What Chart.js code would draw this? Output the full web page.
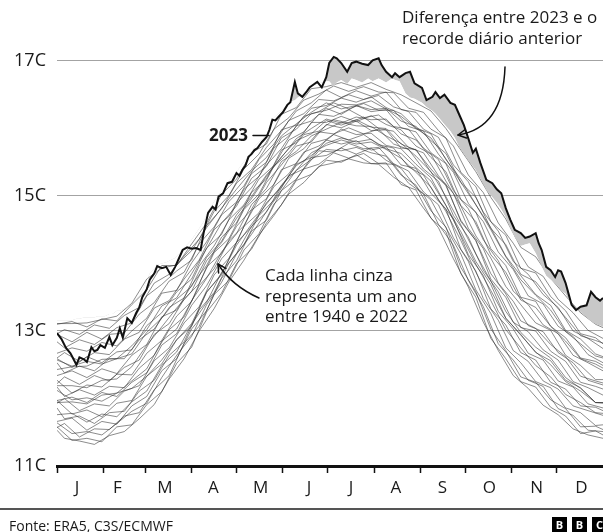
<!DOCTYPE html>
<html>
<head>
<meta charset="utf-8">
<script src="https://cdn.jsdelivr.net/npm/chart.js@4.4.0/dist/chart.umd.min.js"></script>
<style>
html,body{margin:0;padding:0;background:#fff;}
#wrap{position:relative;width:603px;height:532px;overflow:hidden;font-family:'Open Sans',sans-serif;color:#1a1a1a;background:#fff;}
#c{position:absolute;left:0;top:0;}
.note{position:absolute;font-size:17px;line-height:20.5px;white-space:nowrap;}
#sep{position:absolute;left:0;top:508px;width:603px;height:1.5px;background:#555;}
#src{position:absolute;left:9px;top:517px;font-size:14px;line-height:17px;white-space:nowrap;}
#bbc{position:absolute;left:552px;top:517px;height:15px;white-space:nowrap;}
#bbc span{display:inline-block;width:15px;height:15px;margin-right:5px;background:#000;color:#fff;font:700 11px/15px 'Open Sans',sans-serif;text-align:center;vertical-align:top;}
</style>
</head>
<body>
<div id="wrap">
<canvas id="c" width="603" height="532"></canvas>
<div class="note" style="left:402px;top:7px;">Diferença entre 2023 e o<br>recorde diário anterior</div>
<div class="note" style="left:265px;top:265px;">Cada linha cinza<br>representa um ano<br>entre 1940 e 2022</div>
<div class="note" style="left:209px;top:125px;font-weight:700;">2023</div>
<div id="sep"></div>
<div id="src">Fonte: ERA5, C3S/ECMWF</div>
<div id="bbc"><span>B</span><span>B</span><span>C</span></div>
</div>
<script>
// ---------- DATA ----------
const monthLetters   = ['J','F','M','A','M','J','J','A','S','O','N','D'];
const monthStartDays = [0,31,59,90,120,151,181,212,243,273,304,334];
const monthLabelDays = [13.4,40.4,72.2,104.6,136.2,168.4,196.5,226.6,257.7,289.1,320.7,350.6];
const yTickValues    = [11,13,15,17];

// 2023 daily global surface air temperature (°C)
const days2023 = [0,3,6,9,13,15,18,20,23,25,27,29,32,35,37,40,42,44,47,50,53,55,57,60,62,65,67,70,73,76,79,82,84,87,90,93,96,98,101,104,106,108,111,114,117,120,122,124,126,128,130,132,134,137,140,142,144,146,148,151,154,156,159,161,164,167,169,172,174,177,180,182,185,187,190,194,197,200,204,208,211,215,217,220,224,226,229,233,236,239,244,247,251,253,256,259,263,266,269,272,275,278,280,283,287,291,294,297,300,303,306,310,313,316,320,322,324,327,330,333,335,337,340,342,344,347,350,354,357,360,363,365];
const temp2023 = [12.97,12.88,12.75,12.67,12.50,12.61,12.58,12.54,12.76,12.70,12.72,12.79,12.75,12.91,12.79,12.90,13.04,12.90,13.19,13.12,13.27,13.35,13.50,13.62,13.76,13.85,13.96,13.93,13.95,13.83,13.95,14.10,14.20,14.24,14.22,14.23,14.20,14.45,14.75,14.84,14.80,14.99,15.04,15.19,15.21,15.34,15.30,15.39,15.45,15.58,15.62,15.68,15.71,15.80,15.87,15.98,16.13,16.12,16.17,16.24,16.35,16.39,16.69,16.52,16.47,16.55,16.61,16.66,16.69,16.61,16.76,16.97,17.06,17.04,16.97,16.84,16.97,16.99,16.96,16.94,17.01,17.04,16.94,16.84,16.76,16.82,16.76,16.82,16.84,16.67,16.60,16.42,16.47,16.54,16.45,16.50,16.38,16.35,16.20,16.05,15.85,15.64,15.70,15.49,15.24,15.19,15.10,15.04,14.82,14.65,14.50,14.45,14.38,14.40,14.45,14.30,14.20,13.95,13.90,13.80,13.90,13.88,13.71,13.55,13.39,13.31,13.36,13.38,13.58,13.50,13.45,13.49];
// previous daily record (1940-2022), same days as 2023
const recordPrev = [13.15,13.15,13.15,13.15,13.18,13.18,13.2,13.2,13.2,13.2,13.22,13.22,13.22,13.25,13.25,13.3,13.3,13.32,13.36,13.42,13.48,13.52,13.6,13.75,13.85,13.92,13.98,14.0,14.02,14.05,14.08,14.15,14.22,14.28,14.35,14.45,14.55,14.62,14.78,14.88,14.95,15.02,15.1,15.2,15.28,15.36,15.42,15.48,15.54,15.6,15.66,15.72,15.78,15.84,15.9,16.0,16.14,16.18,16.22,16.28,16.36,16.4,16.42,16.46,16.5,16.56,16.6,16.64,16.66,16.68,16.7,16.7,16.62,16.68,16.72,16.66,16.74,16.72,16.68,16.74,16.7,16.74,16.72,16.68,16.74,16.72,16.7,16.52,16.46,16.44,16.38,16.32,16.26,16.22,16.14,16.06,15.96,15.86,15.72,15.62,15.52,15.44,15.38,15.26,15.08,14.98,14.9,14.8,14.68,14.52,14.38,14.26,14.28,14.3,14.15,14.05,13.95,13.82,13.76,13.7,13.66,13.6,13.55,13.46,13.38,13.32,13.28,13.2,13.14,13.1,13.08,13.06];

// sample of earlier years (grey lines); group A read every 10 days, group B offset by 5 days
const greyDaysA = [0,10,20,30,40,50,60,70,80,90,100,110,120,130,140,150,160,170,180,190,200,210,220,230,240,250,260,270,280,290,300,310,320,330,340,350,360,365];
const greyDaysB = [0,5,15,25,35,45,55,65,75,85,95,105,115,125,135,145,155,165,175,185,195,205,215,225,235,245,255,265,275,285,295,305,315,325,335,345,355,365];
const greyA01 = [11.58,11.38,11.41,11.36,11.58,11.61,11.91,12.10,12.52,12.76,13.28,13.56,14.00,14.21,14.60,14.87,15.23,15.32,15.53,15.50,15.61,15.48,15.49,15.17,15.09,14.67,14.47,13.85,13.50,12.89,12.59,12.25,12.17,11.87,11.74,11.48,11.52,11.46];
const greyA02 = [11.66,11.71,11.53,11.66,11.62,11.89,12.03,12.41,12.59,13.03,13.30,13.78,14.04,14.48,14.64,15.08,15.25,15.57,15.60,15.71,15.62,15.71,15.53,15.41,15.13,14.94,14.53,14.14,13.61,13.26,12.75,12.53,12.25,12.16,11.86,11.79,11.60,11.61];
const greyA03 = [11.97,11.77,11.83,11.73,11.93,11.97,12.33,12.51,12.87,13.07,13.58,13.83,14.31,14.54,14.90,15.13,15.47,15.57,15.83,15.77,15.82,15.68,15.73,15.46,15.41,15.04,14.81,14.21,13.89,13.33,13.09,12.68,12.57,12.24,12.14,11.89,11.87,11.82];
const greyA04 = [11.97,12.02,11.94,12.09,12.03,12.24,12.38,12.79,12.96,13.38,13.67,14.07,14.31,14.79,14.96,15.39,15.48,15.78,15.84,15.99,15.91,15.93,15.75,15.70,15.47,15.27,14.86,14.47,14.03,13.69,13.19,12.95,12.68,12.56,12.27,12.16,11.94,11.94];
const greyA05 = [12.27,12.08,12.20,12.17,12.36,12.35,12.67,12.86,13.22,13.44,13.95,14.15,14.55,14.80,15.20,15.46,15.74,15.80,16.06,16.01,16.11,15.97,15.98,15.71,15.69,15.35,15.17,14.62,14.34,13.77,13.50,13.05,13.00,12.70,12.55,12.24,12.18,12.14];
const greyA06 = [12.34,12.41,12.31,12.44,12.37,12.64,12.80,13.21,13.31,13.68,13.97,14.39,14.60,15.05,15.25,15.68,15.79,16.09,16.09,16.18,16.10,16.19,16.06,15.98,15.74,15.62,15.22,14.85,14.41,14.08,13.66,13.39,13.12,13.01,12.64,12.49,12.28,12.28];
const greyA07 = [12.59,12.46,12.62,12.53,12.69,12.72,13.08,13.27,13.58,13.77,14.23,14.43,14.89,15.12,15.46,15.70,16.04,16.11,16.30,16.21,16.34,16.25,16.28,16.01,15.95,15.64,15.48,14.95,14.76,14.22,13.97,13.50,13.44,13.07,12.90,12.60,12.55,12.49];
const greyA08 = [12.67,12.75,12.70,12.83,12.78,13.00,13.19,13.56,13.60,14.01,14.32,14.72,14.91,15.33,15.50,15.98,16.05,16.30,16.34,16.45,16.39,16.47,16.31,16.22,16.01,15.92,15.54,15.25,14.87,14.53,14.11,13.82,13.54,13.38,13.01,12.88,12.66,12.62];
const greyA09 = [12.95,12.84,12.98,12.88,13.05,13.12,13.52,13.69,13.89,14.05,14.56,14.81,15.19,15.39,15.72,15.97,16.26,16.38,16.57,16.46,16.56,16.48,16.54,16.28,16.24,15.99,15.86,15.35,15.14,14.62,14.42,13.93,13.86,13.51,13.30,12.96,12.90,12.81];
const greyA10 = [13.10,13.14,13.06,13.18,13.15,13.39,13.61,13.97,13.97,14.29,14.60,15.02,15.25,15.64,15.77,16.21,16.31,16.59,16.62,16.68,16.61,16.68,16.58,16.50,16.38,16.26,16.00,15.68,15.36,14.98,14.66,14.24,14.10,13.78,13.52,13.27,13.10,13.05];
const greyA11 = [11.64,11.48,11.51,11.46,11.63,11.81,11.93,12.31,12.64,12.92,13.39,13.72,14.14,14.43,14.77,15.08,15.38,15.54,15.69,15.67,15.72,15.64,15.59,15.31,15.16,14.78,14.54,13.94,13.58,13.03,12.71,12.32,12.24,11.98,11.85,11.58,11.59,11.54];
const greyA12 = [12.12,11.98,12.01,11.96,12.08,12.15,12.33,12.57,12.87,13.11,13.57,13.85,14.27,14.58,14.88,15.15,15.45,15.60,15.78,15.86,15.80,15.84,15.70,15.63,15.42,15.22,14.86,14.42,13.99,13.60,13.19,12.94,12.69,12.50,12.25,12.11,11.94,11.93];
const greyA13 = [12.19,12.19,12.16,12.27,12.29,12.47,12.79,13.06,13.34,13.59,14.04,14.31,14.67,14.96,15.29,15.58,15.82,15.92,16.12,16.05,16.13,16.02,16.00,15.77,15.68,15.40,15.15,14.64,14.34,13.85,13.55,13.15,13.04,12.80,12.62,12.33,12.26,12.23];
const greyA14 = [12.43,12.47,12.48,12.58,12.59,12.78,13.02,13.37,13.49,13.85,14.22,14.60,14.85,15.26,15.44,15.86,15.99,16.22,16.27,16.36,16.35,16.41,16.29,16.18,16.00,15.86,15.55,15.20,14.87,14.50,14.10,13.76,13.53,13.31,12.99,12.81,12.63,12.60];
const greyA15 = [13.11,13.11,13.12,13.17,13.22,13.41,13.77,13.93,13.98,14.19,14.53,14.82,15.10,15.37,15.57,15.89,16.07,16.24,16.38,16.29,16.34,16.28,16.30,16.11,16.03,15.82,15.63,15.20,14.98,14.52,14.28,13.84,13.73,13.46,13.20,12.93,12.86,12.82];
const greyA16 = [11.76,11.78,11.65,11.77,11.73,11.95,12.11,12.49,12.69,13.10,13.42,13.87,14.15,14.55,14.76,15.16,15.38,15.64,15.75,15.83,15.77,15.80,15.69,15.56,15.35,15.13,14.77,14.34,13.87,13.45,13.02,12.75,12.49,12.32,12.06,11.94,11.79,11.78];
const greyA17 = [11.94,11.95,11.92,12.05,12.08,12.26,12.44,12.85,13.03,13.45,13.78,14.17,14.44,14.87,15.11,15.51,15.66,15.89,15.99,16.09,16.04,16.03,15.89,15.78,15.59,15.36,14.99,14.57,14.14,13.74,13.29,12.98,12.76,12.60,12.31,12.15,11.94,11.94];
const greyA18 = [12.57,12.48,12.55,12.51,12.59,12.66,12.98,13.19,13.47,13.66,14.09,14.33,14.72,14.99,15.31,15.57,15.85,16.00,16.14,16.08,16.17,16.13,16.14,15.92,15.83,15.57,15.36,14.86,14.62,14.13,13.87,13.46,13.35,13.07,12.85,12.59,12.51,12.45];
const greyB01 = [11.57,11.63,11.43,11.55,11.54,11.74,11.79,12.13,12.34,12.82,13.07,13.54,13.75,14.20,14.44,14.88,15.09,15.40,15.47,15.64,15.56,15.63,15.48,15.47,15.19,15.03,14.58,14.27,13.75,13.36,12.81,12.57,12.27,12.18,11.85,11.75,11.53,11.51];
const greyB02 = [11.86,11.70,11.74,11.63,11.79,11.81,12.11,12.27,12.64,12.84,13.31,13.57,14.01,14.28,14.71,14.94,15.30,15.40,15.67,15.65,15.78,15.70,15.72,15.48,15.37,15.06,14.87,14.38,14.03,13.48,13.16,12.71,12.55,12.26,12.14,11.89,11.82,11.75];
const greyB03 = [11.93,12.00,11.82,11.92,11.89,12.11,12.19,12.56,12.75,13.12,13.36,13.83,14.08,14.55,14.75,15.14,15.33,15.65,15.74,15.91,15.83,15.91,15.76,15.71,15.43,15.31,14.94,14.66,14.13,13.82,13.29,13.03,12.67,12.57,12.26,12.17,11.92,11.86];
const greyB04 = [12.17,12.03,12.13,12.05,12.18,12.16,12.45,12.64,13.02,13.21,13.67,13.92,14.34,14.56,14.96,15.17,15.56,15.70,15.95,15.92,16.01,15.92,15.99,15.77,15.69,15.40,15.22,14.71,14.39,13.90,13.58,13.13,12.99,12.72,12.57,12.25,12.16,12.05];
const greyB05 = [12.22,12.32,12.21,12.34,12.26,12.46,12.57,12.95,13.11,13.47,13.70,14.16,14.37,14.80,15.03,15.44,15.64,15.91,15.96,16.13,16.08,16.17,16.00,15.96,15.72,15.64,15.30,15.04,14.52,14.22,13.71,13.44,13.08,12.99,12.68,12.53,12.27,12.20];
const greyB06 = [12.53,12.38,12.48,12.41,12.59,12.59,12.87,13.03,13.35,13.49,13.96,14.26,14.65,14.87,15.25,15.45,15.83,15.95,16.21,16.18,16.28,16.16,16.20,16.03,15.99,15.71,15.54,15.08,14.81,14.35,14.04,13.59,13.39,13.09,12.96,12.64,12.53,12.41];
const greyB07 = [12.60,12.68,12.55,12.68,12.65,12.88,12.98,13.34,13.45,13.77,14.05,14.50,14.70,15.10,15.29,15.71,15.89,16.18,16.25,16.38,16.29,16.37,16.27,16.27,16.03,15.96,15.62,15.35,14.89,14.62,14.17,13.91,13.52,13.40,13.07,12.92,12.65,12.53];
const greyB08 = [12.84,12.75,12.87,12.80,12.95,12.97,13.25,13.42,13.74,13.87,14.29,14.54,14.92,15.15,15.54,15.77,16.12,16.22,16.43,16.41,16.50,16.43,16.49,16.32,16.25,15.99,15.87,15.46,15.21,14.76,14.48,14.03,13.84,13.54,13.35,13.00,12.89,12.74];
const greyB09 = [12.96,13.02,12.95,13.09,13.04,13.23,13.35,13.71,13.84,14.11,14.36,14.77,15.01,15.40,15.62,15.99,16.16,16.42,16.51,16.63,16.55,16.62,16.54,16.53,16.30,16.24,15.97,15.74,15.31,15.05,14.60,14.30,13.95,13.81,13.47,13.27,13.01,12.89];
const greyB10 = [11.53,11.41,11.37,11.32,11.45,11.51,11.70,11.91,12.29,12.59,13.00,13.33,13.73,14.05,14.42,14.71,15.03,15.20,15.44,15.49,15.55,15.49,15.47,15.28,15.13,14.82,14.53,14.07,13.65,13.13,12.71,12.34,12.15,11.90,11.76,11.55,11.46,11.41];
const greyLinesA = [greyA01,greyA02,greyA03,greyA04,greyA05,greyA06,greyA07,greyA08,greyA09,greyA10,greyA11,greyA12,greyA13,greyA14,greyA15,greyA16,greyA17,greyA18];
const greyLinesB = [greyB01,greyB02,greyB03,greyB04,greyB05,greyB06,greyB07,greyB08,greyB09,greyB10];

// ---------- CHART ----------
const FONT = "'Open Sans', sans-serif";
const xy = (xs, ys) => xs.map((x, i) => ({x: x, y: ys[i]}));

const greyStyle = {borderColor: 'rgba(45,45,45,0.55)', borderWidth: 1, pointRadius: 0, tension: 0, fill: false};
const greySets = greyLinesA.map((g, i) => Object.assign({label: 'A' + (i + 1), data: xy(greyDaysA, g)}, greyStyle))
  .concat(greyLinesB.map((g, i) => Object.assign({label: 'B' + (i + 1), data: xy(greyDaysB, g)}, greyStyle)));

const annot = {
  id: 'annot',
  afterDraw(chart) {
    const c = chart.ctx;
    c.save();
    c.strokeStyle = '#111';
    c.lineWidth = 1.5;
    c.lineCap = 'round';
    c.lineJoin = 'round';
    const curve = (p0, p1, p2) => {
      c.beginPath();
      c.moveTo(p0[0], p0[1]);
      c.quadraticCurveTo(p1[0], p1[1], p2[0], p2[1]);
      c.stroke();
      const a = Math.atan2(p2[1] - p1[1], p2[0] - p1[0]);
      const L = 9;
      c.beginPath();
      c.moveTo(p2[0] - L * Math.cos(a - 0.5), p2[1] - L * Math.sin(a - 0.5));
      c.lineTo(p2[0], p2[1]);
      c.lineTo(p2[0] - L * Math.cos(a + 0.5), p2[1] - L * Math.sin(a + 0.5));
      c.stroke();
    };
    curve([505, 67], [503, 128], [458, 135]);
    curve([259, 298], [232, 286], [218, 264]);
    c.beginPath();
    c.moveTo(253, 135.5);
    c.lineTo(269, 135.5);
    c.stroke();
    c.restore();
  }
};

new Chart(document.getElementById('c'), {
  type: 'line',
  data: {
    datasets: [
      {
        label: '2023',
        data: xy(days2023, temp2023),
        borderColor: '#111',
        borderWidth: 2,
        pointRadius: 0,
        tension: 0,
        fill: {target: 1, above: '#c8c8c8', below: 'rgba(0,0,0,0)'}
      },
      {
        label: 'Recorde anterior',
        data: xy(days2023, recordPrev),
        borderColor: 'rgba(0,0,0,0)',
        borderWidth: 0,
        pointRadius: 0,
        tension: 0,
        fill: false
      }
    ].concat(greySets)
  },
  options: {
    responsive: false,
    animation: false,
    devicePixelRatio: 1,
    layout: {padding: {top: 25, left: 0, right: 0, bottom: 0}},
    plugins: {legend: {display: false}, tooltip: {enabled: false}},
    scales: {
      x: {
        type: 'linear',
        min: 0,
        max: 365,
        afterBuildTicks: s => {
          s.ticks = monthStartDays.concat(monthLabelDays).sort((a, b) => a - b).map(v => ({value: v}));
        },
        afterFit: s => { s.height = 66; },
        ticks: {
          autoSkip: false, maxRotation: 0, minRotation: 0, padding: 5,
          color: '#1a1a1a', font: {family: FONT, size: 17},
          callback: v => { const i = monthLabelDays.indexOf(v); return i >= 0 ? monthLetters[i] : ''; }
        },
        grid: {
          drawOnChartArea: false, drawTicks: true, tickLength: 7, tickWidth: 1.5,
          tickColor: ctx => (ctx.tick && monthStartDays.includes(ctx.tick.value)) ? '#111' : 'rgba(0,0,0,0)'
        },
        border: {display: true, color: '#111', width: 3}
      },
      y: {
        type: 'linear',
        min: 11,
        max: 17.5333,
        afterBuildTicks: s => { s.ticks = yTickValues.map(v => ({value: v})); },
        afterFit: s => { s.width = 57; },
        ticks: {padding: 11, color: '#1a1a1a', font: {family: FONT, size: 18}, callback: v => v + 'C'},
        grid: {
          drawTicks: false, lineWidth: 1,
          color: ctx => (ctx.tick && ctx.tick.value === 11) ? 'rgba(0,0,0,0)' : '#a3a3a3'
        },
        border: {display: false}
      }
    }
  },
  plugins: [annot]
});
</script>
</body>
</html>
